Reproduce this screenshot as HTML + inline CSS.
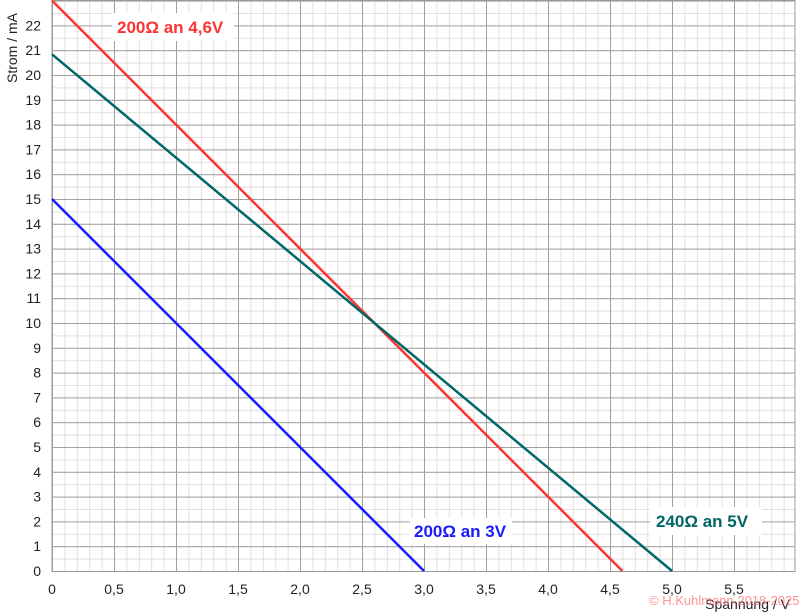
<!DOCTYPE html>
<html><head><meta charset="utf-8"><style>
body{margin:0;background:#fff;}
svg{display:block;font-family:"Liberation Sans",sans-serif;}
</style></head><body>
<svg width="800" height="613" xmlns="http://www.w3.org/2000/svg">
<defs>
<pattern id="mi" patternUnits="userSpaceOnUse" x="52" y="571" width="12.4" height="12.4">
<path d="M0.5 0 V12.4 M0 0.5 H12.4" stroke="#e0e0e0" stroke-width="1" fill="none"/>
</pattern>
<pattern id="ma" patternUnits="userSpaceOnUse" x="52" y="571" width="62" height="24.8">
<path d="M0.5 0 V24.8 M0 0.5 H62" stroke="#a0a0a0" stroke-width="1" fill="none"/>
</pattern>
</defs>
<rect x="52" y="0" width="743" height="571" fill="url(#mi)"/>
<rect x="52" y="0" width="743" height="571" fill="url(#ma)"/>
<rect x="52" y="0.5" width="743" height="571" fill="none" stroke="#999"/>
<g font-size="14" text-anchor="end" fill="#222">
<text x="41" y="576">0</text><text x="41" y="551.2">1</text><text x="41" y="526.4">2</text><text x="41" y="501.6">3</text><text x="41" y="476.8">4</text><text x="41" y="452">5</text><text x="41" y="427.2">6</text><text x="41" y="402.4">7</text><text x="41" y="377.6">8</text><text x="41" y="352.8">9</text><text x="41" y="328">10</text><text x="41" y="303.2">11</text><text x="41" y="278.4">12</text><text x="41" y="253.6">13</text><text x="41" y="228.8">14</text><text x="41" y="204">15</text><text x="41" y="179.2">16</text><text x="41" y="154.4">17</text><text x="41" y="129.6">18</text><text x="41" y="104.8">19</text><text x="41" y="80">20</text><text x="41" y="55.2">21</text><text x="41" y="30.4">22</text>
</g>
<g font-size="14" text-anchor="middle" fill="#222">
<text x="52" y="594">0</text><text x="114" y="594">0,5</text><text x="176" y="594">1,0</text><text x="238" y="594">1,5</text><text x="300" y="594">2,0</text><text x="362" y="594">2,5</text><text x="424" y="594">3,0</text><text x="486" y="594">3,5</text><text x="548" y="594">4,0</text><text x="610" y="594">4,5</text><text x="672" y="594">5,0</text><text x="734" y="594">5,5</text>
</g>
<line x1="52" y1="0.6" x2="622.4" y2="571" stroke="#ff3333" stroke-width="2.5"/>
<line x1="52" y1="54.33" x2="672" y2="571" stroke="#006666" stroke-width="2.5"/>
<line x1="52" y1="199" x2="424" y2="571" stroke="#1a1aff" stroke-width="2.5"/>
<rect x="112" y="13" width="122" height="28" fill="#fff"/>
<text x="117" y="33" font-size="17" font-weight="bold" fill="#ff3333">200Ω an 4,6V</text>
<rect x="410" y="518" width="102" height="26" fill="#fff"/>
<text x="414" y="537" font-size="17" font-weight="bold" fill="#1a1aff">200Ω an 3V</text>
<rect x="650" y="507" width="112" height="28" fill="#fff"/>
<text x="656" y="527" font-size="17" font-weight="bold" fill="#006666">240Ω an 5V</text>
<text x="17" y="48" font-size="14" fill="#222" text-anchor="middle" transform="rotate(-90 17 48)">Strom / mA</text>
<text x="790" y="609" font-size="14" fill="#222" text-anchor="end">Spannung / V</text>
<text x="649" y="605" font-size="13" fill="#ff7777" fill-opacity="0.8">© H.Kuhlmann 2018-2025</text>
</svg>
</body></html>
